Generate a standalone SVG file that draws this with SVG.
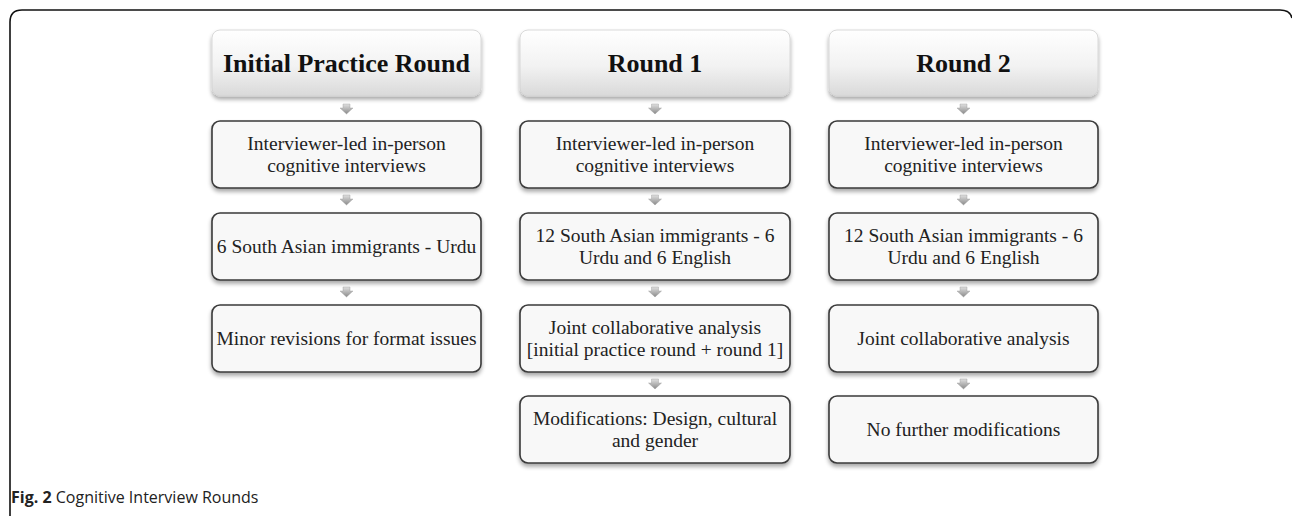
<svg xmlns="http://www.w3.org/2000/svg" width="1292" height="516" viewBox="0 0 1292 516">
<defs>
<linearGradient id="hdr" x1="0" y1="0" x2="0" y2="1">
<stop offset="0" stop-color="#ffffff"/>
<stop offset="0.55" stop-color="#f2f2f2"/>
<stop offset="1" stop-color="#d9d9d9"/>
</linearGradient>
<linearGradient id="arw" x1="0" y1="0" x2="0" y2="1">
<stop offset="0" stop-color="#e0e0e0"/>
<stop offset="1" stop-color="#8a8a8a"/>
</linearGradient>
<filter id="sh" x="-10%" y="-10%" width="120%" height="130%">
<feGaussianBlur in="SourceAlpha" stdDeviation="2"/>
<feOffset dx="0" dy="3" result="b"/>
<feComponentTransfer><feFuncA type="linear" slope="0.35"/></feComponentTransfer>
<feMerge><feMergeNode/><feMergeNode in="SourceGraphic"/></feMerge>
</filter>
</defs>
<style>
.hdr{fill:url(#hdr);stroke:#d0d0d0;stroke-width:0.8;filter:url(#sh)}
.box{fill:#f8f8f8;stroke:#3a3a3a;stroke-width:1.6;filter:url(#sh)}
.ht{font-family:"Liberation Serif",serif;font-weight:bold;font-size:26px;fill:#111;text-anchor:middle}
.bt{font-family:"Liberation Serif",serif;font-size:19.5px;fill:#222;text-anchor:middle}
.cap{font-family:"Open Sans","Liberation Sans",sans-serif;font-size:16px;fill:#222}
.arr{fill:url(#arw);stroke:#9a9a9a;stroke-width:0.4}
</style>
<path d="M10,516 V22 Q10,10 22,10 H1280 Q1290,10 1292,18" fill="none" stroke="#111" stroke-width="1.6"/>
<g id="connectors">
<path class="arr" d="M343,104 h7 v4 h3 l-6.5,6 l-6.5,-6 h3 z"/>
<path class="arr" d="M343,195 h7 v4 h3 l-6.5,6 l-6.5,-6 h3 z"/>
<path class="arr" d="M343,287 h7 v4 h3 l-6.5,6 l-6.5,-6 h3 z"/>
<path class="arr" d="M651.5,104 h7 v4 h3 l-6.5,6 l-6.5,-6 h3 z"/>
<path class="arr" d="M651.5,195 h7 v4 h3 l-6.5,6 l-6.5,-6 h3 z"/>
<path class="arr" d="M651.5,287 h7 v4 h3 l-6.5,6 l-6.5,-6 h3 z"/>
<path class="arr" d="M651.5,379 h7 v4 h3 l-6.5,6 l-6.5,-6 h3 z"/>
<path class="arr" d="M960,104 h7 v4 h3 l-6.5,6 l-6.5,-6 h3 z"/>
<path class="arr" d="M960,195 h7 v4 h3 l-6.5,6 l-6.5,-6 h3 z"/>
<path class="arr" d="M960,287 h7 v4 h3 l-6.5,6 l-6.5,-6 h3 z"/>
<path class="arr" d="M960,379 h7 v4 h3 l-6.5,6 l-6.5,-6 h3 z"/>
</g>
<g id="h1"><rect class="hdr" x="212" y="30" width="269" height="66" rx="8"/><text class="ht" x="346.5" y="72">Initial Practice Round</text></g>
<g id="c1n1"><rect class="box" x="212" y="121" width="269" height="67" rx="8"/><text class="bt" x="346.5" y="150">Interviewer-led in-person</text><text class="bt" x="346.5" y="172">cognitive interviews</text></g>
<g id="c1n2"><rect class="box" x="212" y="213" width="269" height="67" rx="8"/><text class="bt" x="346.5" y="253">6 South Asian immigrants - Urdu</text></g>
<g id="c1n3"><rect class="box" x="212" y="305" width="269" height="67" rx="8"/><text class="bt" x="346.5" y="345">Minor revisions for format issues</text></g>

<g id="h2"><rect class="hdr" x="520" y="30" width="270" height="66" rx="8"/><text class="ht" x="655" y="72">Round 1</text></g>
<g id="c2n1"><rect class="box" x="520" y="121" width="270" height="67" rx="8"/><text class="bt" x="655" y="150">Interviewer-led in-person</text><text class="bt" x="655" y="172">cognitive interviews</text></g>
<g id="c2n2"><rect class="box" x="520" y="213" width="270" height="67" rx="8"/><text class="bt" x="655" y="242">12 South Asian immigrants - 6</text><text class="bt" x="655" y="264">Urdu and 6 English</text></g>
<g id="c2n3"><rect class="box" x="520" y="305" width="270" height="67" rx="8"/><text class="bt" x="655" y="334">Joint collaborative analysis</text><text class="bt" x="655" y="356">[initial practice round + round 1]</text></g>
<g id="c2n4"><rect class="box" x="520" y="396" width="270" height="67" rx="8"/><text class="bt" x="655" y="425">Modifications: Design, cultural</text><text class="bt" x="655" y="447">and gender</text></g>

<g id="h3"><rect class="hdr" x="829" y="30" width="269" height="66" rx="8"/><text class="ht" x="963.5" y="72">Round 2</text></g>
<g id="c3n1"><rect class="box" x="829" y="121" width="269" height="67" rx="8"/><text class="bt" x="963.5" y="150">Interviewer-led in-person</text><text class="bt" x="963.5" y="172">cognitive interviews</text></g>
<g id="c3n2"><rect class="box" x="829" y="213" width="269" height="67" rx="8"/><text class="bt" x="963.5" y="242">12 South Asian immigrants - 6</text><text class="bt" x="963.5" y="264">Urdu and 6 English</text></g>
<g id="c3n3"><rect class="box" x="829" y="305" width="269" height="67" rx="8"/><text class="bt" x="963.5" y="345">Joint collaborative analysis</text></g>
<g id="c3n4"><rect class="box" x="829" y="396" width="269" height="67" rx="8"/><text class="bt" x="963.5" y="436">No further modifications</text></g>

<text class="cap" x="11" y="503"><tspan font-weight="bold">Fig. 2</tspan> Cognitive Interview Rounds</text>
</svg>
